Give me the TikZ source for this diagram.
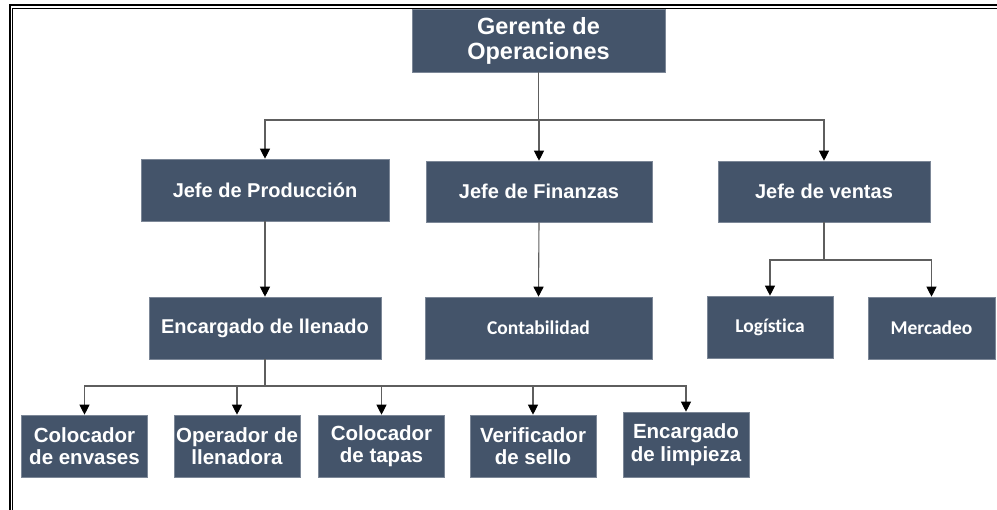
\documentclass[tikz,border=0pt]{standalone}
\usepackage{fontspec}
\setmainfont{Liberation Sans}
\newfontfamily\calfont[Ligatures=NoCommon]{Carlito}
\usetikzlibrary{arrows.meta}
\definecolor{boxfill}{HTML}{44546A}
\definecolor{linegray}{HTML}{5E5E5E}
\tikzset{
	puesto/.style={rectangle, fill=boxfill, draw=boxfill!70!white, line width=0.6pt, text=white, align=center,
		font=\fontsize{20}{22.5}\selectfont\bfseries, inner sep=0pt},
	puestocal/.style={puesto, font=\calfont\fontsize{19.5}{22}\selectfont\bfseries},
	puestobajo/.style={puesto, minimum width=126pt, font=\fontsize{20.5}{22.5}\selectfont\bfseries},
	conn/.style={draw=linegray, line width=1.1pt},
	flecha/.style={conn, -{Triangle[length=10pt,width=10pt,color=black]}}
}
\begin{document}
\begin{tikzpicture}[x=1pt, y=-1pt]
	\useasboundingbox (0,0) rectangle (997,510);
	\draw[line width=1.4pt] (10,510) -- (10,5) -- (997,5);
	\draw[line width=1.2pt] (12.8,510) -- (12.8,8.4) -- (997,8.4);
	% nivel 1
	\node[puesto, minimum width=253pt, minimum height=63pt, font=\fontsize{23.5}{25}\selectfont\bfseries] (gerente) at (538.5,40.5) {Gerente de\\Operaciones};
	% nivel 2
	\node[puesto, minimum width=248pt, minimum height=62pt] (produccion) at (265,190) {Jefe de Producción};
	\node[puesto, minimum width=226pt, minimum height=61pt] (finanzas) at (539,191.5) {Jefe de Finanzas};
	\node[puesto, minimum width=212pt, minimum height=61pt] (ventas) at (824,191.5) {Jefe de ventas};
	% nivel 3
	\node[puesto, minimum width=232pt, minimum height=62pt] (llenado) at (265,328) {Encargado de llenado};
	\node[puestocal, minimum width=227pt, minimum height=62pt] (contabilidad) at (538.5,328) {Contabilidad};
	\node[puestocal, minimum width=126pt, minimum height=62pt] (logistica) at (770,327) {Logística};
	\node[puestocal, minimum width=127pt, minimum height=62pt] (mercadeo) at (931.5,328) {Mercadeo};
	% nivel 4
	\node[puestobajo, minimum height=62pt] (envases) at (84.5,446) {Colocador\\de envases};
	\node[puestobajo, minimum height=62pt] (operador) at (237,446) {Operador de\\llenadora};
	\node[puestobajo, minimum height=62pt] (tapas) at (381.5,446) {Colocador\\de tapas};
	\node[puestobajo, minimum height=62pt] (sello) at (533,446) {Verificador\\de sello};
	\node[puestobajo, minimum height=65pt] (limpieza) at (686,444.5) {Encargado\\de limpieza};
	\coordinate (bus1) at (538.5,120);
	\coordinate (bus2) at (824,260);
	\coordinate (bus3) at (265,386);
	\draw[conn] (gerente.south) -- (bus1);
	\foreach \hijo in {produccion,finanzas,ventas}
		\draw[flecha] (bus1) -| (\hijo.north);
	\draw[flecha] (produccion.south) -- (llenado.north);
	\draw[flecha] (finanzas.south) -- (contabilidad.north);
	\draw[conn] (ventas.south) -- (bus2);
	\foreach \hijo in {logistica,mercadeo}
		\draw[flecha] (bus2) -| (\hijo.north);
	\draw[conn] (llenado.south) -- (bus3);
	\foreach \hijo in {envases,operador,tapas,sello,limpieza}
		\draw[flecha] (bus3) -| (\hijo.north);
\end{tikzpicture}
\end{document}
